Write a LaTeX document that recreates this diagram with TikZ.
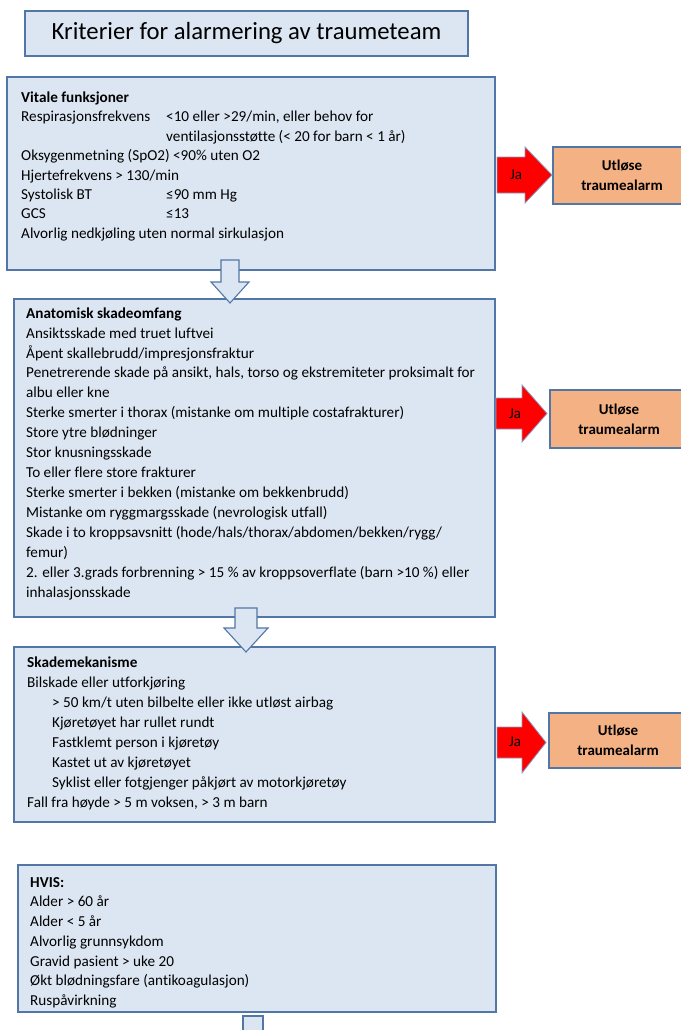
\documentclass[tikz,border=0pt]{standalone}
\usepackage{fontspec}
\setmainfont{Carlito}[Ligatures=NoCommon]
\usetikzlibrary{positioning, calc}

\definecolor{panelfill}{HTML}{DCE6F2}
\definecolor{panelline}{HTML}{5276A6}
\definecolor{alarmfill}{HTML}{F4B183}
\definecolor{jared}{HTML}{FF0000}

\begin{document}
\begin{tikzpicture}[x=1pt, y=-1pt,
        titlebox/.style={draw=panelline, fill=panelfill, line width=1.3pt, minimum width=443pt, minimum height=45pt, font=\fontsize{24.7}{28}\selectfont},
        panel/.style={draw=panelline, fill=panelfill, line width=1.3pt, rectangle, anchor=north west, inner sep=0pt, outer sep=0pt},
        paneltext/.style={anchor=north west, align=left, inner sep=0pt},
        alarm/.style={draw=panelline, fill=alarmfill, line width=1.3pt, anchor=north west, inner sep=0pt, outer sep=0pt, minimum width=138pt, align=center, font=\bfseries\fontsize{15}{20}\selectfont},
        downarrow/.style={draw=panelline, fill=panelfill, line width=1.1pt, line join=miter},
        jaarrow/.style={draw=panelline!70, fill=jared, line width=0.8pt, line join=miter},
        jatext/.style={font=\fontsize{15}{17}\selectfont, inner sep=0pt}]

        \useasboundingbox (0,0) rectangle (680,1030);

        % Overskrift
        \node (title) [titlebox] at (246.5,33.5) {Kriterier for alarmering av traumeteam};

        % Kriteriebokser
        \node (vital) [panel, minimum width=488pt, minimum height=193pt] at (7,77) {};
        \node (anat) [panel, minimum width=481pt, minimum height=318pt] at (14,299) {};
        \node (mek) [panel, minimum width=481pt, minimum height=175pt] at (14,647) {};
        \node (hvis) [panel, minimum width=478pt, minimum height=147pt] at (18,865) {};

        % Tekst i boksene
        \node (vitaltext) [paneltext, font=\fontsize{15.2}{19.4}\selectfont, below right=11.7pt and 14pt of vital.north west] {%
            \strut\textbf{Vitale funksjoner}\\
            \makebox[145pt][l]{Respirasjonsfrekvens}<10 eller >29/min, eller behov for\\
            \hspace*{145pt}ventilasjonsstøtte (< 20 for barn < 1 år)\\
            Oksygenmetning (SpO2) <90\% uten O2\\
            Hjertefrekvens > 130/min\\
            \makebox[145pt][l]{Systolisk BT}≤90 mm Hg\\
            \makebox[145pt][l]{GCS}≤13\\
            Alvorlig nedkjøling uten normal sirkulasjon};

        \node (anattext) [paneltext, font=\fontsize{15.2}{19.93}\selectfont, below right=5pt and 12pt of anat.north west] {%
            \strut\textbf{Anatomisk skadeomfang}\\
            Ansiktsskade med truet luftvei\\
            Åpent skallebrudd/impresjonsfraktur\\
            Penetrerende skade på ansikt, hals, torso og ekstremiteter proksimalt for\\
            albu eller kne\\
            Sterke smerter i thorax (mistanke om multiple costafrakturer)\\
            Store ytre blødninger\\
            Stor knusningsskade\\
            To eller flere store frakturer\\
            Sterke smerter i bekken (mistanke om bekkenbrudd)\\
            Mistanke om ryggmargsskade (nevrologisk utfall)\\
            Skade i to kroppsavsnitt (hode/hals/thorax/abdomen/bekken/rygg/\\
            femur)\\
            2. eller 3.grads forbrenning > 15 \% av kroppsoverflate (barn >10 \%) eller\\
            inhalasjonsskade};

        \node (mektext) [paneltext, font=\fontsize{15.2}{20}\selectfont, below right=6pt and 13pt of mek.north west] {%
            \strut\textbf{Skademekanisme}\\
            Bilskade eller utforkjøring\\
            \hspace*{25pt}> 50 km/t uten bilbelte eller ikke utløst airbag\\
            \hspace*{25pt}Kjøretøyet har rullet rundt\\
            \hspace*{25pt}Fastklemt person i kjøretøy\\
            \hspace*{25pt}Kastet ut av kjøretøyet\\
            \hspace*{25pt}Syklist eller fotgjenger påkjørt av motorkjøretøy\\
            Fall fra høyde > 5 m voksen, > 3 m barn};

        \node (hvistext) [paneltext, font=\fontsize{15.2}{19.7}\selectfont, below right=8.2pt and 12pt of hvis.north west] {%
            \strut\textbf{HVIS:}\\
            Alder > 60 år\\
            Alder < 5 år\\
            Alvorlig grunnsykdom\\
            Gravid pasient > uke 20\\
            Økt blødningsfare (antikoagulasjon)\\
            Ruspåvirkning};

        % Blokkpiler nedover
        \draw[downarrow] (221,260) -- (239,260) -- (239,282) -- (249,282) -- (230,303) -- (211,282) -- (221,282) -- cycle;
        \draw[downarrow] (235,608) -- (257,608) -- (257,628) -- (268,628) -- (246,652) -- (224,628) -- (235,628) -- cycle;
        \draw[downarrow] (243,1045) -- (243,1016) -- (263,1016) -- (263,1045);

        % Alarmbokser
        \node (alarm1) [alarm, minimum height=57pt] at (553,147) {Utløse\\traumealarm};
        \node (alarm2) [alarm, minimum height=58pt] at (550,390) {Utløse\\traumealarm};
        \node (alarm3) [alarm, minimum height=55pt] at (549,713) {Utløse\\traumealarm};

        % Ja-piler
        \draw[jaarrow] (497,157) -- (525,157) -- (525,147) -- (552,175) -- (525,203) -- (525,193) -- (497,193) -- cycle;
        \draw[jaarrow] (496,398) -- (522,398) -- (522,385) -- (547,413.5) -- (522,442) -- (522,429) -- (496,429) -- cycle;
        \draw[jaarrow] (497,727) -- (522,727) -- (522,712) -- (546,742.5) -- (522,773) -- (522,758) -- (497,758) -- cycle;
        \node (ja1) [jatext] at (516,175) {Ja};
        \node (ja2) [jatext] at (515,414) {Ja};
        \node (ja3) [jatext] at (515,742) {Ja};
\end{tikzpicture}
\end{document}
